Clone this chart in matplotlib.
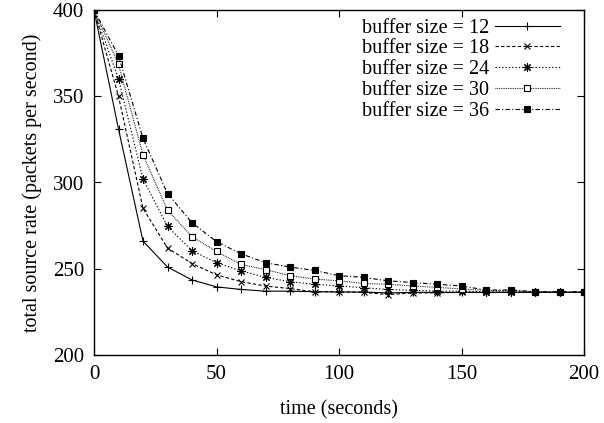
import matplotlib
matplotlib.use("Agg")
import matplotlib.pyplot as plt

plt.rcParams['font.family'] = ['Liberation Serif', 'DejaVu Serif']

time = [0, 10, 20, 30, 40, 50, 60, 70, 80, 90, 100, 110, 120, 130, 140, 150, 160, 170, 180, 190, 200]
buf12 = [400, 331, 266, 251, 243.5, 239.5, 238, 237, 237, 236.7, 236.5, 236.5, 236, 236.3, 236.3, 236.3, 236.3, 236.3, 236.3, 236.3, 236.3]
buf18 = [400, 350, 285, 262, 253, 246.5, 242.5, 240, 238.5, 236.7, 236.7, 236.3, 235, 236, 236, 236.3, 236.3, 236.3, 236.3, 236.3, 236.3]
buf24 = [400, 360, 302, 274.5, 260.5, 253.5, 248.8, 245, 242.5, 241, 240, 239, 238, 237.5, 237, 237, 236.7, 236.5, 236.5, 236.3, 236.3]
buf30 = [400, 368.5, 316, 284, 268.6, 260, 252.5, 249.5, 246, 244, 243, 241.5, 241, 240, 239.2, 238.3, 237.5, 237.2, 236.7, 236.5, 236.5]
buf36 = [400, 373.5, 325.6, 293.6, 276.7, 265.7, 258.7, 253.5, 251, 249, 246, 245, 243, 242, 241, 240, 237.7, 237.7, 236.7, 236.7, 236.7]
labels = ["buffer size = 12", "buffer size = 18", "buffer size = 24",
          "buffer size = 30", "buffer size = 36"]

fig = plt.figure(figsize=(6.04, 4.23), dpi=100)
ax = fig.add_axes([94/604, (423-355)/423, (584-94)/604, (355-10)/423])

lw = 0.8
ax.plot(time, buf12, color='black', lw=lw, ls='-', marker='+', ms=6, mew=0.8, label=labels[0])
ax.plot(time, buf18, color='black', lw=lw, ls=(0, (3, 2)), marker='x', ms=5, mew=0.8, label=labels[1])
ax.plot(time, buf24, color='black', lw=lw, ls=(0, (1.2, 1.8)), marker=(8, 2, 0), ms=6, mew=0.8, label=labels[2])
ax.plot(time, buf30, color='black', lw=lw, ls=(0, (0.7, 0.9)), marker='s', ms=5, mew=0.8,
        mfc='white', label=labels[3])
ax.plot(time, buf36, color='black', lw=lw, ls=(0, (4, 2, 1, 2)), marker='s', ms=5, mew=0.8,
        mfc='black', label=labels[4])

ax.set_xlim(0, 200)
ax.set_ylim(200, 400)
ax.set_xticks([0, 50, 100, 150, 200])
ax.set_yticks([200, 250, 300, 350, 400])
ax.tick_params(direction='in', top=True, right=True, length=5, width=0.8,
               labelsize=15, pad=7)
for s in ax.spines.values():
    s.set_linewidth(1.0)

ax.set_xlabel("time (seconds)", fontsize=14.5, labelpad=12)
ax.set_ylabel("total source rate (packets per second)", fontsize=14.5, labelpad=8)

leg = ax.legend(loc='upper right', bbox_to_anchor=(0.975, 1.01), frameon=False,
                markerfirst=False, fontsize=14.5, handlelength=3.2, handletextpad=0.3,
                labelspacing=0.08, borderaxespad=0.2)

fig.savefig("out.png", dpi=100)
